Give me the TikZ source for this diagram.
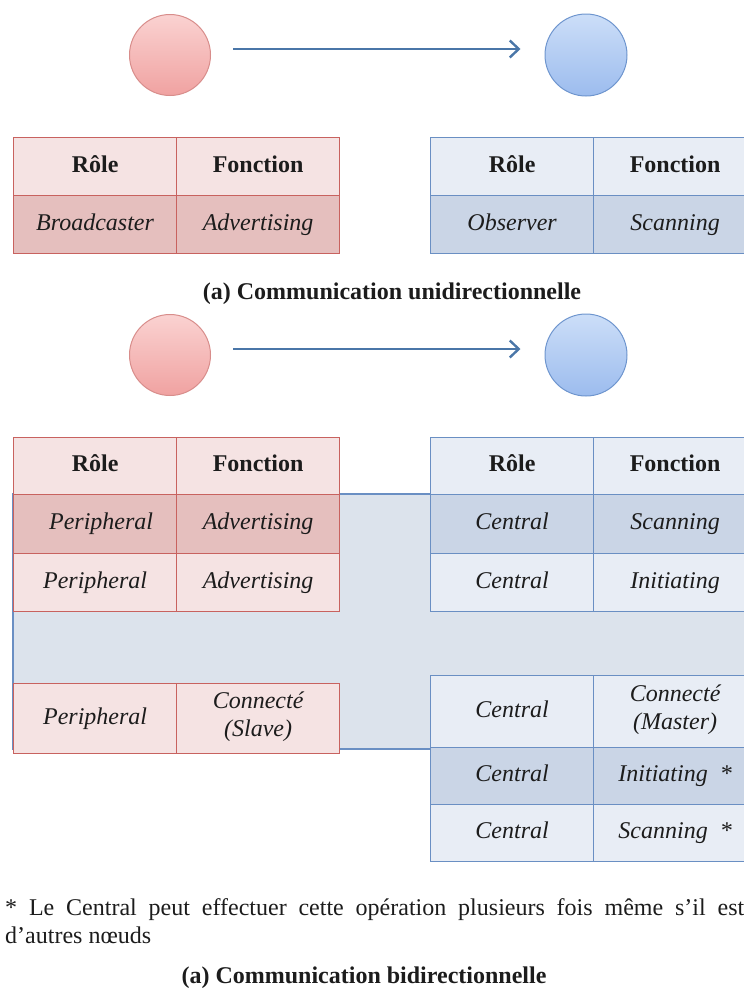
\documentclass[tikz,border=0pt]{standalone}
\usepackage{fontspec}
\setmainfont{Liberation Serif}
\usetikzlibrary{arrows.meta}

\definecolor{bordrouge}{HTML}{C8625F}
\definecolor{bordbleu}{HTML}{6A8FC3}
\definecolor{roseclair}{HTML}{F5E3E3}
\definecolor{rosefonce}{HTML}{E5BFBE}
\definecolor{bleuclair}{HTML}{E8EDF5}
\definecolor{bleufonce}{HTML}{CAD5E6}
\definecolor{bande}{HTML}{DCE3EC}
\definecolor{fleche}{HTML}{4A76A8}
\definecolor{texte}{HTML}{1C1C1C}
\definecolor{rosehaut}{HTML}{FAD2D1}
\definecolor{rosebas}{HTML}{F0A2A1}
\definecolor{roserond}{HTML}{D88D8B}
\definecolor{bleuhaut}{HTML}{CCDEF8}
\definecolor{bleubas}{HTML}{9CBCEE}
\definecolor{bleurond}{HTML}{6E95CE}

\newcommand{\taille}{\fontsize{24}{28}\selectfont}

\tikzset{
  cell/.style={draw, line width=1.2pt, anchor=north west, inner sep=0pt,
    minimum width=163pt, minimum height=58pt, align=center,
    font=\taille\itshape, text=texte,
    execute at begin node=\strut, execute at end node=\strut},
  entete/.style={cell, font=\taille\bfseries},
  rouge/.style={draw=bordrouge, fill=roseclair},
  rougef/.style={draw=bordrouge, fill=rosefonce},
  bleu/.style={draw=bordbleu, fill=bleuclair},
  bleuf/.style={draw=bordbleu, fill=bleufonce},
  rondrouge/.style={circle, minimum size=81pt, line width=1pt, draw=roserond,
    top color=rosehaut, bottom color=rosebas},
  rondbleu/.style={circle, minimum size=82pt, line width=1pt, draw=bleurond,
    top color=bleuhaut, bottom color=bleubas},
  fl/.style={draw=fleche, line width=2.4pt, -{Straight Barb[length=9pt,width=17pt]},
    shorten <=22pt, shorten >=24pt}
}

\begin{document}
\begin{tikzpicture}[x=1pt,y=-1pt]

\useasboundingbox (0,0) rectangle (744,991);

% Communication unidirectionnelle

\node[rondrouge] (emA) at (170,55) {};
\node[rondbleu] (recA) at (586,55) {};
\draw[fl] ([yshift=6pt]emA.east) -- ([yshift=6pt]recA.west);

\node[entete, rouge] (roleA) at (13,137) {Rôle};
\node[entete, rouge] (fonctA) at (176,137) {Fonction};
\node[cell, rougef] (broad) at (13,195) {Broadcaster};
\node[cell, rougef] (advA) at (176,195) {Advertising};

\node[entete, bleu] (roleB) at (430,137) {Rôle};
\node[entete, bleu] (fonctB) at (593,137) {Fonction};
\node[cell, bleuf] (obs) at (430,195) {Observer};
\node[cell, bleuf] (scanA) at (593,195) {Scanning};

\node[font=\taille\bfseries, text=texte] (titreA) at (392,294) {(a) Communication unidirectionnelle};

% Communication bidirectionnelle

\node[rondrouge] (emB) at (170,355) {};
\node[rondbleu] (recB) at (586,355) {};
\draw[fl] ([yshift=6pt]emB.east) -- ([yshift=6pt]recB.west);

% bande de fond (en bleu gris)
\filldraw[fill=bande, draw=bordbleu, line width=1.2pt] (13,494) rectangle (760,749);

\node[entete, rouge, minimum height=57pt] (roleC) at (13,437) {Rôle};
\node[entete, rouge, minimum height=57pt] (fonctC) at (176,437) {Fonction};
\node[cell, rougef, minimum height=59pt] (periA) at (13,494) {\hspace*{12pt}Peripheral};
\node[cell, rougef, minimum height=59pt] (advB) at (176,494) {Advertising};
\node[cell, rouge] (periB) at (13,553) {Peripheral};
\node[cell, rouge] (advC) at (176,553) {Advertising};
\node[cell, rouge, minimum height=70pt] (periC) at (13,683) {Peripheral};
\node[cell, rouge, minimum height=70pt] (slave) at (176,683) {Connecté\\(Slave)};

\node[entete, bleu, minimum height=57pt] (roleD) at (430,437) {Rôle};
\node[entete, bleu, minimum height=57pt] (fonctD) at (593,437) {Fonction};
\node[cell, bleuf, minimum height=59pt] (centA) at (430,494) {Central};
\node[cell, bleuf, minimum height=59pt] (scanB) at (593,494) {Scanning};
\node[cell, bleu] (centB) at (430,553) {Central};
\node[cell, bleu] (initA) at (593,553) {Initiating};
\node[cell, bleu, minimum height=72pt] (centC) at (430,675) {Central};
\node[cell, bleu, minimum height=72pt] (master) at (593,675) {Connecté\\(Master)};
\node[cell, bleuf, minimum height=57pt] (centD) at (430,747) {Central};
\node[cell, bleuf, minimum height=57pt] (initB) at (593,747) {Initiating \ *};
\node[cell, bleu, minimum height=57pt] (centE) at (430,804) {Central};
\node[cell, bleu, minimum height=57pt] (scanC) at (593,804) {Scanning \ *};

\node[anchor=north west, inner sep=0pt, text width=739pt, align=justify,
  font=\taille, text=texte] (note) at (5,898)
  {* Le Central peut effectuer cette opération plusieurs fois même s'il est\linebreak d'autres nœuds};

\node[font=\taille\bfseries, text=texte] (titreB) at (364,978) {(a) Communication bidirectionnelle};

\end{tikzpicture}
\end{document}
